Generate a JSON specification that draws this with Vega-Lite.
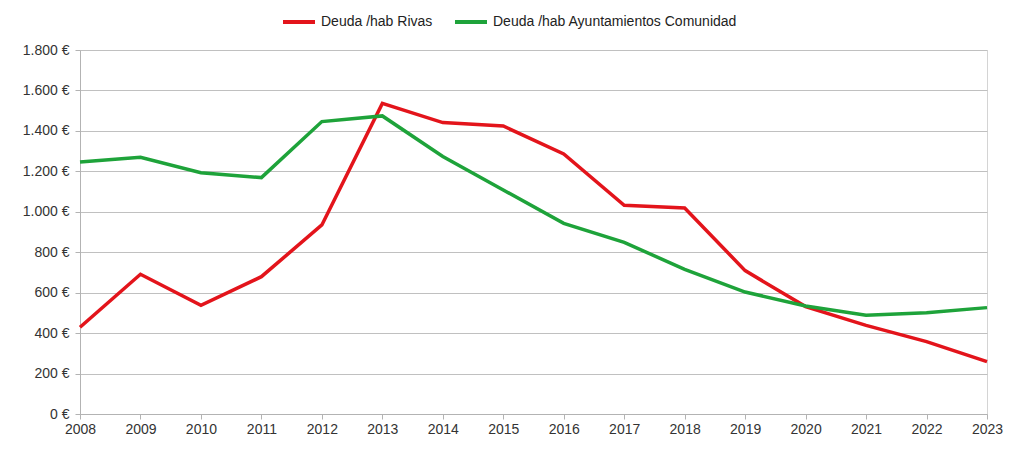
{
  "$schema": "https://vega.github.io/schema/vega-lite/v6.json",
  "width": 907,
  "height": 364,
  "autosize": {"type": "none"},
  "padding": {"left": 80, "top": 50, "right": 37, "bottom": 38},
  "background": "white",
  "config": {
    "font": "Liberation Sans",
    "view": {"stroke": "#d4d4d4", "strokeWidth": 1},
    "axis": {
      "labelFont": "Liberation Sans",
      "labelFontSize": 14,
      "labelColor": "#333333",
      "domainColor": "#b3b3b3",
      "tickColor": "#b3b3b3",
      "gridColor": "#c0c0c0",
      "tickSize": 5,
      "title": null
    },
    "legend": {
      "labelFont": "Liberation Sans",
      "labelFontSize": 14,
      "labelColor": "#222222",
      "labelLimit": 0
    }
  },
  "data": {
    "values": [
      {"year": 2008, "serie": "Deuda /hab Rivas", "valor": 429},
      {"year": 2009, "serie": "Deuda /hab Rivas", "valor": 691},
      {"year": 2010, "serie": "Deuda /hab Rivas", "valor": 537},
      {"year": 2011, "serie": "Deuda /hab Rivas", "valor": 679},
      {"year": 2012, "serie": "Deuda /hab Rivas", "valor": 935},
      {"year": 2013, "serie": "Deuda /hab Rivas", "valor": 1536},
      {"year": 2014, "serie": "Deuda /hab Rivas", "valor": 1441},
      {"year": 2015, "serie": "Deuda /hab Rivas", "valor": 1424},
      {"year": 2016, "serie": "Deuda /hab Rivas", "valor": 1286},
      {"year": 2017, "serie": "Deuda /hab Rivas", "valor": 1032},
      {"year": 2018, "serie": "Deuda /hab Rivas", "valor": 1019},
      {"year": 2019, "serie": "Deuda /hab Rivas", "valor": 709},
      {"year": 2020, "serie": "Deuda /hab Rivas", "valor": 531},
      {"year": 2021, "serie": "Deuda /hab Rivas", "valor": 438},
      {"year": 2022, "serie": "Deuda /hab Rivas", "valor": 358},
      {"year": 2023, "serie": "Deuda /hab Rivas", "valor": 259},
      {"year": 2008, "serie": "Deuda /hab Ayuntamientos Comunidad", "valor": 1246},
      {"year": 2009, "serie": "Deuda /hab Ayuntamientos Comunidad", "valor": 1269},
      {"year": 2010, "serie": "Deuda /hab Ayuntamientos Comunidad", "valor": 1193},
      {"year": 2011, "serie": "Deuda /hab Ayuntamientos Comunidad", "valor": 1169},
      {"year": 2012, "serie": "Deuda /hab Ayuntamientos Comunidad", "valor": 1446},
      {"year": 2013, "serie": "Deuda /hab Ayuntamientos Comunidad", "valor": 1474},
      {"year": 2014, "serie": "Deuda /hab Ayuntamientos Comunidad", "valor": 1273},
      {"year": 2015, "serie": "Deuda /hab Ayuntamientos Comunidad", "valor": 1108},
      {"year": 2016, "serie": "Deuda /hab Ayuntamientos Comunidad", "valor": 943},
      {"year": 2017, "serie": "Deuda /hab Ayuntamientos Comunidad", "valor": 849},
      {"year": 2018, "serie": "Deuda /hab Ayuntamientos Comunidad", "valor": 715},
      {"year": 2019, "serie": "Deuda /hab Ayuntamientos Comunidad", "valor": 603},
      {"year": 2020, "serie": "Deuda /hab Ayuntamientos Comunidad", "valor": 534},
      {"year": 2021, "serie": "Deuda /hab Ayuntamientos Comunidad", "valor": 488},
      {"year": 2022, "serie": "Deuda /hab Ayuntamientos Comunidad", "valor": 501},
      {"year": 2023, "serie": "Deuda /hab Ayuntamientos Comunidad", "valor": 526}
    ]
  },
  "mark": {"type": "line", "strokeWidth": 3.5, "strokeJoin": "miter"},
  "encoding": {
    "x": {
      "field": "year",
      "type": "quantitative",
      "scale": {"domain": [2008, 2023], "nice": false, "zero": false},
      "axis": {
        "values": [2008, 2009, 2010, 2011, 2012, 2013, 2014, 2015, 2016, 2017, 2018, 2019, 2020, 2021, 2022, 2023],
        "format": "d",
        "grid": false,
        "labelFlush": false,
        "labelPadding": 3
      }
    },
    "y": {
      "field": "valor",
      "type": "quantitative",
      "scale": {"domain": [0, 1800], "nice": false},
      "axis": {
        "values": [0, 200, 400, 600, 800, 1000, 1200, 1400, 1600, 1800],
        "labelExpr": "replace(format(datum.value, ',d'), ',', '.') + ' €'",
        "domain": true,
        "labelPadding": 6
      }
    },
    "color": {
      "field": "serie",
      "type": "nominal",
      "sort": ["Deuda /hab Rivas", "Deuda /hab Ayuntamientos Comunidad"],
      "scale": {
        "domain": ["Deuda /hab Rivas", "Deuda /hab Ayuntamientos Comunidad"],
        "range": ["#e3141b", "#1ea33a"]
      },
      "legend": {
        "title": null,
        "orient": "none",
        "direction": "horizontal",
        "legendX": 201,
        "legendY": -46,
        "symbolType": "stroke",
        "symbolSize": 1024,
        "symbolStrokeWidth": 4,
        "columnPadding": 14,
        "labelOffset": 4
      }
    }
  }
}
